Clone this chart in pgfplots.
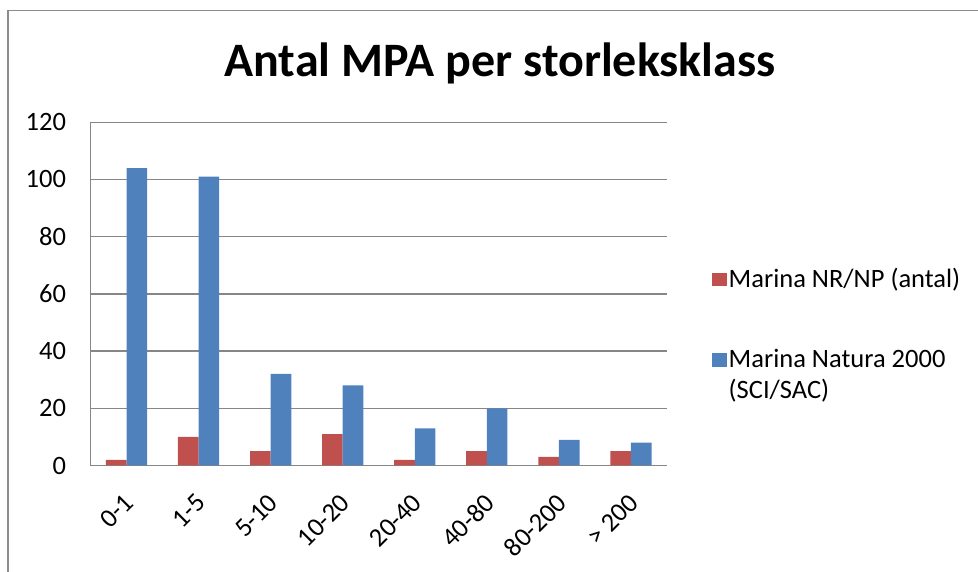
\documentclass[border=0pt]{standalone}
\usepackage{pgfplots}
\pgfplotsset{compat=1.18}
\usepackage{fontspec}
\setmainfont{Carlito}
\definecolor{barred}{RGB}{192,80,77}
\definecolor{barblue}{RGB}{79,129,189}
\definecolor{gridgray}{RGB}{134,134,134}
\definecolor{framegray}{RGB}{140,140,140}
\begin{document}
\begin{tikzpicture}[x=1pt,y=1pt]
\useasboundingbox (0,0) rectangle (978,572);
\draw[framegray, line width=1.6pt] (8,0) -- (8,561.5) -- (978,561.5);
\node[font=\fontsize{48}{56}\selectfont\bfseries, anchor=base] at (500,495) {Antal MPA per storleksklass};
\begin{axis}[
  at={(90.5pt,106.5pt)}, anchor=south west,
  scale only axis, width=576.5pt, height=343.2pt,
  ybar=0pt, bar width=20.6pt,
  xmin=-0.5, xmax=7.5, ymin=0, ymax=120,
  xtick=data,
  xticklabels={0-1,1-5,5-10,10-20,20-40,40-80,80-200,> 200},
  ytick={0,20,40,60,80,100,120},
  ymajorgrids, major grid style={gridgray, line width=1.3pt},
  major tick length=0pt,
  axis line style={gridgray, line width=1.3pt},
  axis x line*=bottom, axis y line*=left,
  tick label style={font=\fontsize{26.5}{31}\selectfont},
  /pgf/number format/assume math mode=true,
  yticklabel style={anchor=east, xshift=-21pt},
  xticklabel style={rotate=45, anchor=north east, xshift=-18pt, yshift=-13pt},
  legend style={at={(1.072,0.587)}, anchor=north west, draw=none, fill=none,
    font=\fontsize{26.5}{31}\selectfont, row sep=56pt,
    cells={anchor=base west, align=left}},
]
\addplot[fill=barred, draw=none,
  legend image code/.code={\fill[barred] (0pt,1.5pt) rectangle (15pt,15pt);}]
  coordinates {(0,2) (1,10) (2,5) (3,11) (4,2) (5,5) (6,3) (7,5)};
\addplot[fill=barblue, draw=none,
  legend image code/.code={\fill[barblue] (0pt,31.6pt) rectangle (15pt,45.6pt);}]
  coordinates {(0,104) (1,101) (2,32) (3,28) (4,13) (5,20) (6,9) (7,8)};
\legend{Marina NR/NP (antal), Marina Natura 2000\\(SCI/SAC)}
\end{axis}
\end{tikzpicture}
\end{document}
